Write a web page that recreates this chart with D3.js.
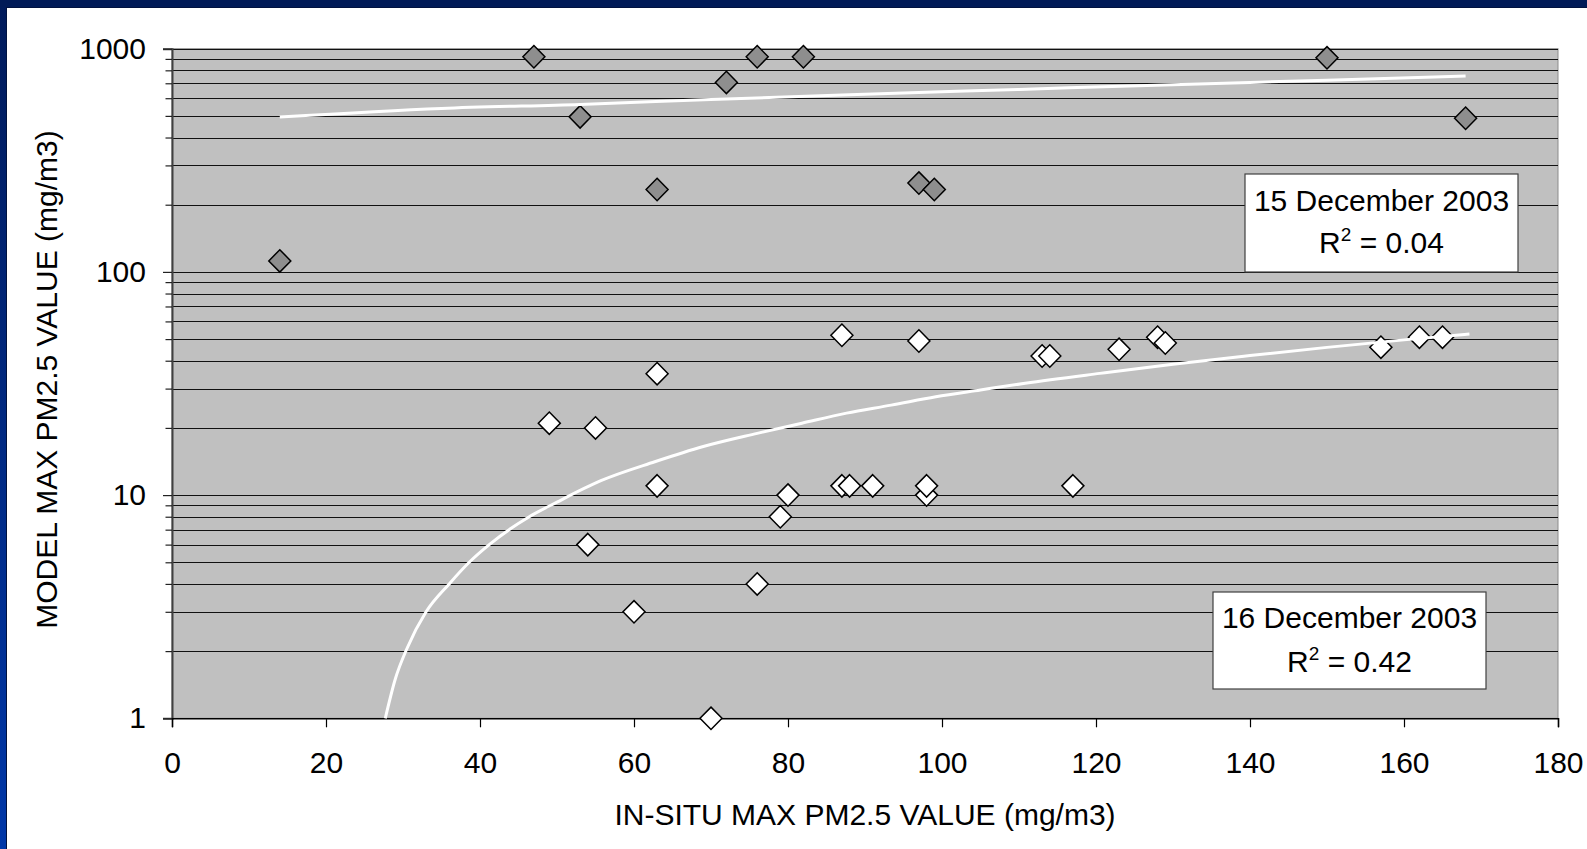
<!DOCTYPE html>
<html><head><meta charset="utf-8">
<script src="https://cdn.jsdelivr.net/npm/d3@7/dist/d3.min.js"></script>
<style>html,body{margin:0;padding:0;background:#fff;overflow:hidden}</style>
</head><body>
<svg id="chart" width="1587" height="849"></svg>
<script>
// ---- data ----
const xTickValues = [0, 20, 40, 60, 80, 100, 120, 140, 160, 180];
const yMajorTicks = [1, 10, 100, 1000];
const xTitle = "IN-SITU MAX PM2.5 VALUE (mg/m3)";
const yTitle = "MODEL MAX PM2.5 VALUE (mg/m3)";

// 15 December 2003 (grey diamonds)
const dec15X = [14, 47, 53, 63, 72, 76, 82, 97, 99, 150, 168];
const dec15Y = [112, 920, 495, 234, 706, 920, 920, 250, 234, 910, 488];

// 16 December 2003 (white diamonds)
const dec16X = [49, 54, 55, 60, 63, 63, 70, 76, 79, 80, 87, 87, 88, 91, 97, 98, 98, 113, 114, 117, 123, 128, 129, 157, 162, 165];
const dec16Y = [21, 6, 20, 3, 35, 11, 1, 4, 8, 10, 52, 11, 11, 11, 49, 10, 11, 42, 42, 11, 45, 51, 48, 46, 51, 51];

// trend lines
const trend15X = [14, 35, 53, 70, 88, 110, 130, 150, 168];
const trend15Y = [494, 540, 563, 592, 622, 657, 690, 723, 755];
const trend16X = [27.7, 29, 30.5, 33, 36, 38.6, 41.2, 46.4, 50, 55.7, 62.7, 69, 76, 81.8, 87.6, 93.4, 99.2, 105, 110.8, 120.5, 130, 140, 150, 160, 168.5];
const trend16Y = [1.0, 1.5, 2.05, 3.0, 4.0, 5.0, 6.0, 8.0, 9.3, 11.6, 14.1, 16.5, 18.9, 21.0, 23.3, 25.3, 27.6, 29.6, 31.7, 35.1, 38.6, 42.2, 45.9, 49.6, 52.7];

const label15 = ["15 December 2003", "0.04"];
const label16 = ["16 December 2003", "0.42"];

// ---- layout ----
const svg = d3.select("#chart");
const FONT = "'Liberation Sans', Arial, Helvetica, sans-serif";
const L = 172, R = 1558, T = 48.7, B = 718.3;

const x = d3.scaleLinear().domain([0, 180]).range([L, R]);
const y = d3.scaleLog().domain([1, 1000]).range([B, T]);

// frame
const defs = svg.append("defs");
const grad = defs.append("linearGradient").attr("id", "lg").attr("x1", 0).attr("y1", 0).attr("x2", 0).attr("y2", 1);
grad.append("stop").attr("offset", "0%").attr("stop-color", "#001a5a");
grad.append("stop").attr("offset", "100%").attr("stop-color", "#0037a8");
svg.append("rect").attr("x", 0).attr("y", 0).attr("width", 1587).attr("height", 849).attr("fill", "#fff");
svg.append("rect").attr("x", 0).attr("y", 0).attr("width", 6).attr("height", 849).attr("fill", "url(#lg)");
svg.append("rect").attr("x", 0).attr("y", 0).attr("width", 1587).attr("height", 7).attr("fill", "#001a57");
svg.append("line").attr("x1", 6.5).attr("x2", 6.5).attr("y1", 7).attr("y2", 849).attr("stroke", "#00123f").attr("stroke-width", 1);
svg.append("line").attr("x1", 6).attr("x2", 1587).attr("y1", 7.5).attr("y2", 7.5).attr("stroke", "#00123f").attr("stroke-width", 1);

// plot area
svg.append("rect").attr("x", L).attr("y", T).attr("width", R - L).attr("height", B - T)
  .attr("fill", "#c0c0c0").attr("stroke", "#8c8c8c").attr("stroke-width", 1);

// gridlines (major + minor)
const gridVals = y.ticks();
svg.append("g").selectAll("line").data(gridVals.filter(d => d > 1)).join("line")
  .attr("x1", L).attr("x2", R)
  .attr("y1", d => Math.round(y(d)) + 0.5).attr("y2", d => Math.round(y(d)) + 0.5)
  .attr("stroke", "#111").attr("stroke-width", 1);

// y axis
const yAxis = d3.axisLeft(y).tickValues(gridVals)
  .tickFormat(d => yMajorTicks.includes(d) ? d3.format("d")(d) : "")
  .tickSize(9).tickPadding(17);
const gy = svg.append("g").attr("transform", `translate(${L},0)`).call(yAxis);
gy.select(".domain").attr("stroke", "#404040").attr("stroke-width", 2);
gy.selectAll(".tick line").attr("stroke", "#222").attr("stroke-width", 1.2)
  .attr("x2", d => yMajorTicks.includes(d) ? -9 : -6.5);
gy.selectAll(".tick text").attr("font-family", FONT).attr("font-size", 30).attr("fill", "#000");

// x axis
const xAxis = d3.axisBottom(x).tickValues(xTickValues).tickFormat(d3.format("d")).tickSize(9).tickPadding(24);
const gx = svg.append("g").attr("transform", `translate(0,${B})`).call(xAxis);
gx.select(".domain").attr("stroke", "#000").attr("stroke-width", 1.5);
gx.selectAll(".tick line").attr("stroke", "#000").attr("stroke-width", 1.2);
gx.selectAll(".tick text").attr("font-family", FONT).attr("font-size", 30).attr("fill", "#000");

// titles
svg.append("text").attr("x", (L + R) / 2).attr("y", 825).attr("text-anchor", "middle")
  .attr("font-family", FONT).attr("font-size", 30).attr("fill", "#000").text(xTitle);
svg.append("text").attr("transform", `translate(57,${(127 + 632) / 2}) rotate(-90)`).attr("text-anchor", "middle")
  .attr("font-family", FONT).attr("font-size", 30).attr("fill", "#000").text(yTitle);

// diamonds
const diamond = "M0,-11.2L11,0L0,11.2L-11,0Z";
const pts15 = dec15X.map((v, i) => ({x: v, y: dec15Y[i]}));
const pts16 = dec16X.map((v, i) => ({x: v, y: dec16Y[i]}));
svg.append("g").selectAll("path").data(pts15).join("path")
  .attr("d", diamond).attr("transform", d => `translate(${x(d.x)},${y(d.y)})`)
  .attr("fill", "#8e8e8e").attr("stroke", "#000").attr("stroke-width", 1.5);
svg.append("g").selectAll("path").data(pts16).join("path")
  .attr("d", diamond).attr("transform", d => `translate(${x(d.x)},${y(d.y)})`)
  .attr("fill", "#fff").attr("stroke", "#000").attr("stroke-width", 1.5);

// trend lines
const line = d3.line().x(d => x(d[0])).y(d => y(d[1])).curve(d3.curveMonotoneX);
svg.append("path").datum(trend15X.map((v, i) => [v, trend15Y[i]])).attr("d", line)
  .attr("fill", "none").attr("stroke", "#fff").attr("stroke-width", 3);
svg.append("path").datum(trend16X.map((v, i) => [v, trend16Y[i]])).attr("d", line)
  .attr("fill", "none").attr("stroke", "#fff").attr("stroke-width", 3);

// annotation boxes
function box(bx, by, bw, bh, lab, base1, base2) {
  const g = svg.append("g");
  g.append("rect").attr("x", bx).attr("y", by).attr("width", bw).attr("height", bh)
    .attr("fill", "#fff").attr("stroke", "#404040").attr("stroke-width", 1.2);
  const cx = bx + bw / 2;
  g.append("text").attr("x", cx).attr("y", base1).attr("text-anchor", "middle")
    .attr("font-family", FONT).attr("font-size", 30).attr("fill", "#000").text(lab[0]);
  const t = g.append("text").attr("x", cx).attr("y", base2).attr("text-anchor", "middle")
    .attr("font-family", FONT).attr("font-size", 30).attr("fill", "#000");
  t.append("tspan").text("R");
  t.append("tspan").attr("font-size", 19).attr("dy", -12).text("2");
  t.append("tspan").attr("dy", 12).text(" = " + lab[1]);
}
box(1245, 174, 273, 98, label15, 211, 253);
box(1213, 592, 273, 97, label16, 628, 672);
</script>
</body></html>
